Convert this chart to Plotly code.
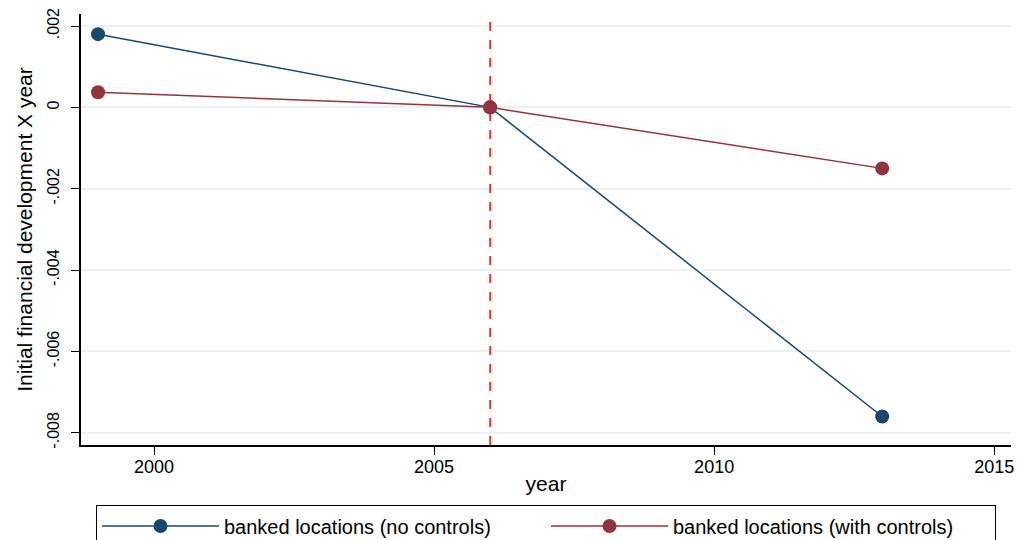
import plotly.graph_objects as go

# data
years = [1999, 2006, 2013]
no_controls = [0.0018, 0.0, -0.0076]
with_controls = [0.00037, 0.0, -0.0015]
event_year = 2006

y_ticks = [0.002, 0.0, -0.002, -0.004, -0.006, -0.008]
y_labels = ['.002', '0', '-.002', '-.004', '-.006', '-.008']
x_ticks = [2000, 2005, 2010, 2015]

blue = '#1a476f'
maroon = '#90353b'

fig = go.Figure()

fig.add_trace(go.Scatter(
    x=years, y=no_controls, mode='lines+markers',
    name='banked locations (no controls)',
    line=dict(color=blue, width=1.5),
    marker=dict(color=blue, size=14)
))

fig.add_trace(go.Scatter(
    x=years, y=with_controls, mode='lines+markers',
    name='banked locations (with controls)',
    line=dict(color=maroon, width=1.5),
    marker=dict(color=maroon, size=14)
))

# vertical reference line
fig.add_vline(x=event_year, line=dict(color='red', width=1.5, dash='dash'))

font = 'Liberation Sans, Arial, sans-serif'

fig.update_layout(
    width=1017, height=540,
    margin=dict(l=81, r=6, t=14, b=95),
    paper_bgcolor='white', plot_bgcolor='white',
    font=dict(family=font, color='black', size=17),
    showlegend=True,
    legend=dict(
        orientation='h', x=0.5, xanchor='center',
        yref='container', y=0.064, yanchor='top',
        bordercolor='black', borderwidth=1, bgcolor='white',
        font=dict(size=20), entrywidth=317, itemwidth=117
    ),
    xaxis=dict(
        range=[1998.696, 2015.30], automargin=False,
        tickvals=x_ticks, showgrid=False, zeroline=False,
        showline=True, linecolor='black', linewidth=1.5,
        ticks='outside', ticklen=8, tickcolor='black', ticklabelstandoff=-3,
        title=dict(text='year', font=dict(size=21), standoff=0),
        tickfont=dict(size=18)
    ),
    yaxis=dict(
        range=[-0.0083, 0.002295], automargin=False,
        tickvals=y_ticks, ticktext=y_labels, tickangle=-90,
        showgrid=True, gridcolor='#eaf2f3', gridwidth=1.5, zeroline=False,
        showline=True, linecolor='black', linewidth=1.5,
        ticks='outside', ticklen=8, tickcolor='black', ticklabelstandoff=6,
        title=dict(text='Initial financial development X year', font=dict(size=21), standoff=6),
        tickfont=dict(size=16)
    )
)

# drop the page's default 8px body margin so the figure sits at the window corner
fig.write_html("out.html", config={'displayModeBar': False},
               post_script="document.body.style.margin='0';")
